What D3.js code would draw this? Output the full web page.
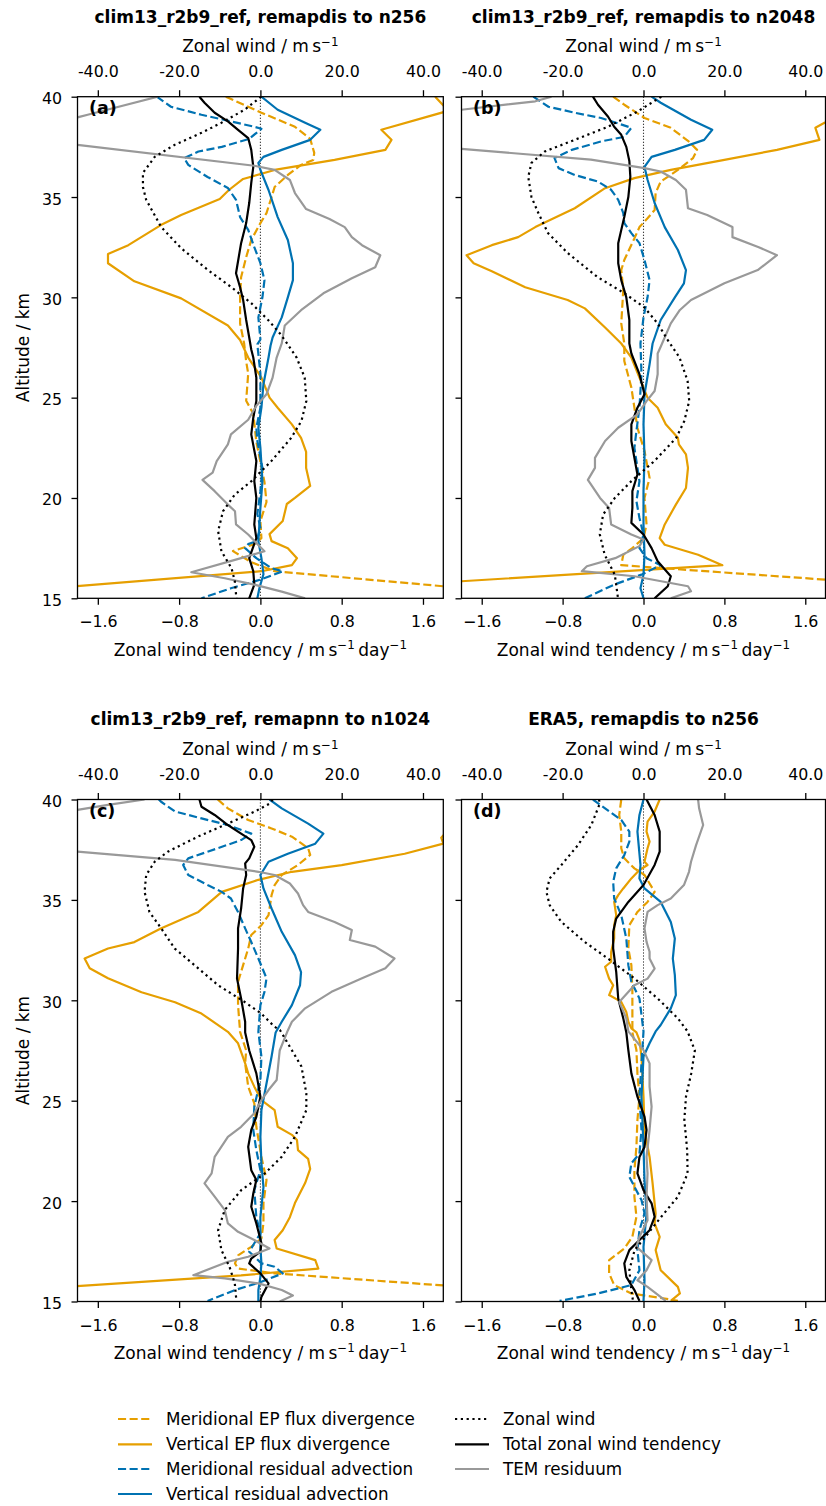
<!DOCTYPE html>
<html>
<head>
<meta charset="utf-8">
<script src="https://cdn.jsdelivr.net/npm/d3@7"></script>
<style>
  body { margin: 0; background: #fff; }
  text { font-family: "DejaVu Sans", sans-serif; fill: #000; }
</style>
</head>
<body>
<div id="fig"></div>
<script>
// values: [tendency (m/s/day) or wind (m/s), altitude (km)]

// panel (a) clim13_r2b9_ref, remapdis to n256
const a_merEP = [[-0.34,40],[0.01,39.2],[0.34,38.5],[0.49,37.9],[0.53,37.2],[0.52,36.85],[0.40,36.6],[0.27,36.1],[0.14,35.5],[0.11,35.0],[0.06,34.2],[0.0,33.7],[-0.09,32.86],[-0.14,32.0],[-0.19,31.0],[-0.20,30.0],[-0.20,28.7],[-0.16,27.7],[-0.14,26.8],[-0.12,26.2],[-0.14,24.85],[-0.07,24.2],[-0.04,22.8],[0.04,20.8],[0.06,19.8],[0.0,18.85],[0.01,18.0],[-0.06,17.7],[-0.27,17.35],[-0.09,16.8],[0.14,16.35],[1.80,15.6],[2.5,15.3]];
const a_vertEP = [[1.72,40],[1.85,39.3],[1.19,38.35],[1.29,37.85],[1.23,37.35],[0.73,36.85],[0.14,36.35],[-0.17,35.9],[-0.31,35.35],[-0.40,34.9],[-0.78,34.1],[-0.98,33.6],[-1.30,32.6],[-1.50,32.16],[-1.50,31.7],[-1.24,30.8],[-0.78,29.95],[-0.32,28.6],[-0.20,27.87],[-0.12,27.0],[0.01,26.0],[0.09,25.0],[0.17,24.5],[0.31,23.67],[0.40,23.0],[0.45,22.3],[0.45,21.5],[0.49,20.6],[0.34,20.0],[0.26,19.7],[0.22,18.85],[0.09,18.2],[0.11,17.85],[0.27,17.5],[0.36,17.0],[0.31,16.65],[0.01,16.35],[-1.83,15.6],[-2.6,15.3]];
const a_merAdv = [[-1.02,40],[-0.88,39.5],[-0.58,39.1],[-0.29,38.77],[-0.06,38.5],[0.01,38.4],[-0.11,37.9],[-0.38,37.5],[-0.61,37.27],[-0.75,36.94],[-0.71,36.6],[-0.52,36.0],[-0.32,35.45],[-0.24,34.86],[-0.20,34.0],[-0.12,33.36],[-0.06,32.5],[0.0,31.7],[0.04,30.86],[0.02,30.0],[-0.02,29.0],[0.0,27.9],[-0.03,27.66],[0.0,26.2],[0.0,24.5],[-0.04,23.5],[-0.03,22.84],[0.02,21.5],[0.0,20.34],[-0.03,19.2],[0.0,18.5],[-0.04,17.85],[-0.12,17.7],[-0.15,17.5],[-0.04,17.0],[0.11,16.5],[0.22,16.35],[0.0,15.93],[-0.29,15.5],[-0.58,15.0]];
const a_vertAdv = [[0.01,40],[0.17,39.35],[0.44,38.7],[0.59,38.35],[0.49,37.85],[0.21,37.35],[0.03,37.0],[-0.02,36.7],[0.0,36.35],[0.08,35.35],[0.17,34.0],[0.27,32.86],[0.32,31.7],[0.32,30.86],[0.27,30.0],[0.21,29.0],[0.12,28.0],[0.10,27.6],[0.08,27.0],[0.03,25.67],[0.01,24.5],[-0.02,23.5],[0.0,22.5],[0.02,20.84],[0.0,19.5],[-0.02,17.85],[0.01,17.0],[0.03,16.2],[-0.01,15.5],[-0.03,15.0]];
const a_total = [[-0.60,40],[-0.55,39.7],[-0.45,39.2],[-0.32,38.77],[-0.22,38.35],[-0.12,37.94],[-0.09,37.35],[-0.07,36.5],[-0.09,35.7],[-0.11,34.7],[-0.14,33.7],[-0.19,32.7],[-0.24,31.2],[-0.20,30.5],[-0.17,29.87],[-0.14,28.87],[-0.11,28.0],[-0.09,27.4],[-0.07,27.0],[-0.04,26.0],[-0.04,24.83],[-0.07,24.0],[-0.09,23.17],[-0.04,21.84],[-0.06,20.84],[-0.04,20.0],[-0.06,18.68],[-0.04,18.0],[-0.11,17.0],[-0.07,16.35],[-0.06,15.68],[-0.11,15.0]];
const a_resid = [[-1.01,40],[-1.70,39.1],[-2.52,38.03],[-1.80,37.6],[-0.06,36.56],[0.14,36.35],[0.29,35.85],[0.34,35.2],[0.45,34.4],[0.68,33.9],[0.83,33.5],[0.90,33.0],[1.0,32.6],[1.18,32.1],[1.13,31.5],[0.90,30.95],[0.62,30.2],[0.40,29.36],[0.24,28.6],[0.21,27.7],[0.16,27.0],[0.12,26.0],[0.06,25.17],[-0.04,24.6],[-0.12,23.9],[-0.29,23.17],[-0.32,22.67],[-0.43,21.84],[-0.47,21.26],[-0.57,20.9],[-0.45,20.34],[-0.32,19.67],[-0.25,19.34],[-0.24,18.68],[-0.12,18.18],[-0.04,17.76],[0.04,17.35],[-0.19,17.0],[-0.68,16.3],[-0.35,16.0],[-0.06,15.68],[0.21,15.33],[0.44,15.0]];
const a_wind = [[0.2,40],[-3.9,39.35],[-9.6,38.7],[-14.5,38.2],[-21.1,37.6],[-26.0,37.0],[-28.9,36.2],[-28.9,35.5],[-28.1,34.86],[-24.4,33.5],[-19.5,32.45],[-12.9,31.36],[-7.1,30.5],[-2.2,29.7],[1.9,28.87],[4.8,28.2],[6.0,27.87],[8.9,27.0],[10.9,26.0],[11.3,24.83],[10.1,23.84],[7.6,23.0],[2.7,21.84],[-2.2,20.84],[-6.3,20.17],[-9.2,19.34],[-10.4,18.35],[-9.6,17.35],[-7.1,16.5],[-6.3,15.85],[-5.9,15.0]];

// panel (b) clim13_r2b9_ref, remapdis to n2048
const b_merEP = [[-0.30,40],[-0.19,39.6],[0.01,38.94],[0.27,38.45],[0.44,37.8],[0.53,37.35],[0.49,36.94],[0.34,36.35],[0.17,35.77],[0.12,35.2],[0.11,34.35],[0.04,33.94],[-0.04,33.5],[-0.09,32.94],[-0.19,31.86],[-0.22,31.36],[-0.20,30.37],[-0.22,28.7],[-0.19,27.7],[-0.19,26.83],[-0.12,25.5],[-0.09,24.5],[-0.06,23.5],[0.01,22.34],[0.06,21.0],[0.01,20.0],[0.03,18.68],[0.0,18.0],[-0.11,17.5],[-0.20,17.17],[-0.22,16.65],[1.80,15.93],[2.5,15.74]];
const b_vertEP = [[2.5,40],[2.1,39.3],[1.79,38.7],[1.70,38.45],[1.74,37.85],[1.32,37.35],[0.80,36.85],[0.27,36.35],[-0.09,35.94],[-0.38,35.44],[-0.68,34.44],[-1.07,33.5],[-1.24,33.0],[-1.50,32.6],[-1.75,32.1],[-1.68,31.7],[-1.50,31.3],[-1.17,30.5],[-0.75,29.87],[-0.58,29.45],[-0.38,28.5],[-0.22,27.7],[-0.12,27.0],[-0.04,26.0],[0.04,25.0],[0.14,24.5],[0.22,23.67],[0.34,23.0],[0.35,22.67],[0.42,22.17],[0.44,21.5],[0.42,20.5],[0.32,19.67],[0.21,18.68],[0.16,18.0],[0.21,17.67],[0.54,17.17],[0.78,16.65],[-1.80,15.85],[-2.5,15.6]];
const b_merAdv = [[-1.09,40],[-0.94,39.5],[-0.68,39.2],[-0.42,38.94],[-0.12,38.45],[-0.19,38.0],[-0.42,37.77],[-0.71,37.35],[-0.88,36.94],[-0.84,36.44],[-0.68,36.1],[-0.45,35.77],[-0.32,35.36],[-0.25,34.86],[-0.20,34.2],[-0.19,33.7],[-0.12,33.2],[-0.04,32.7],[0.01,31.86],[0.06,30.86],[0.04,30.0],[0.0,29.0],[-0.03,27.7],[-0.02,26.17],[-0.04,24.5],[-0.07,23.34],[-0.09,22.5],[-0.04,20.84],[-0.07,19.84],[-0.04,19.0],[0.0,18.18],[-0.04,17.5],[0.03,17.0],[0.17,16.65],[-0.02,16.18],[-0.29,15.68],[-0.58,15.0]];
const b_vertAdv = [[0.08,40],[0.17,39.7],[0.47,38.85],[0.68,38.35],[0.60,37.85],[0.31,37.35],[0.08,37.0],[0.01,36.5],[0.04,35.86],[0.11,34.7],[0.21,33.5],[0.34,32.36],[0.42,31.36],[0.40,30.7],[0.31,30.0],[0.17,28.87],[0.09,27.7],[0.06,26.66],[0.01,25.17],[0.0,23.67],[0.01,22.0],[0.0,20.34],[0.0,18.68],[0.01,17.17],[0.0,16.18],[-0.03,15.5],[0.0,15.0]];
const b_total = [[-0.50,40],[-0.45,39.6],[-0.35,39.0],[-0.29,38.5],[-0.22,38.1],[-0.17,37.5],[-0.14,36.8],[-0.13,36.0],[-0.15,35.0],[-0.19,34.0],[-0.22,33.36],[-0.25,32.7],[-0.25,31.7],[-0.22,30.86],[-0.17,30.0],[-0.14,28.87],[-0.14,27.7],[-0.12,27.2],[-0.04,26.17],[0.01,25.17],[-0.06,24.5],[-0.12,23.67],[-0.12,22.84],[-0.09,22.0],[-0.06,21.17],[-0.11,20.34],[-0.11,19.5],[-0.12,18.76],[0.0,18.18],[0.08,17.5],[0.14,16.85],[0.27,16.1],[0.24,15.6],[0.11,15.0]];
const b_resid = [[-0.91,40],[-1.07,39.77],[-1.80,39.35],[-3.75,38.23],[-1.80,37.4],[-0.52,36.86],[0.01,36.44],[0.17,36.27],[0.32,35.85],[0.42,35.36],[0.44,34.44],[0.63,34.1],[0.88,33.5],[0.88,33.0],[1.14,32.5],[1.32,32.1],[1.13,31.36],[0.80,30.7],[0.47,29.87],[0.36,29.37],[0.27,28.7],[0.17,27.54],[0.14,27.2],[0.14,26.17],[0.11,25.33],[0.03,24.83],[-0.06,24.17],[-0.25,23.5],[-0.38,22.84],[-0.48,22.0],[-0.48,21.5],[-0.55,20.9],[-0.43,20.0],[-0.34,19.5],[-0.32,18.68],[-0.12,18.18],[0.0,17.93],[-0.04,17.6],[-0.28,17.0],[-0.56,16.6],[-0.61,16.35],[-0.09,16.1],[0.44,15.6],[0.47,15.35],[0.27,15.0]];
const b_wind = [[4.4,40],[-1.4,39.27],[-8.8,38.5],[-17.0,37.85],[-24.4,37.27],[-27.7,36.7],[-28.5,36.0],[-27.7,35.0],[-26.0,34.2],[-23.6,33.2],[-18.7,32.2],[-11.3,31.0],[-4.7,30.2],[0.2,29.5],[3.5,28.7],[6.0,27.87],[8.9,27.0],[10.9,25.84],[11.3,24.83],[10.1,23.84],[8.1,23.0],[2.7,21.84],[-3.0,20.84],[-7.1,20.0],[-10.0,19.17],[-10.8,18.18],[-9.6,17.17],[-7.1,16.18],[-6.3,15.0]];

// panel (c) clim13_r2b9_ref, remapnn to n1024
const c_merEP = [[-0.42,40],[-0.32,39.56],[-0.12,38.98],[0.11,38.56],[0.31,38.15],[0.47,37.57],[0.49,37.24],[0.37,36.74],[0.21,36.24],[0.14,35.74],[0.11,35.24],[0.08,34.24],[0.01,33.74],[-0.09,33.25],[-0.12,32.58],[-0.17,31.75],[-0.22,30.92],[-0.22,29.76],[-0.20,28.43],[-0.14,27.5],[-0.15,26.86],[-0.12,25.7],[-0.06,24.87],[-0.04,23.7],[0.01,22.2],[0.06,21.05],[0.03,19.9],[0.03,18.9],[0.01,18.14],[-0.09,17.72],[-0.22,17.3],[-0.25,16.9],[-0.22,16.64],[0.14,16.4],[1.80,15.8],[2.5,15.55]];
const c_vertEP = [[2.3,40],[1.85,38.5],[1.78,38.1],[1.80,37.8],[1.42,37.3],[0.80,36.73],[0.31,36.4],[-0.02,36.0],[-0.38,35.4],[-0.61,34.4],[-0.98,33.58],[-1.24,32.9],[-1.50,32.58],[-1.73,32.08],[-1.68,31.6],[-1.50,31.1],[-1.17,30.4],[-0.84,29.9],[-0.58,29.34],[-0.32,28.43],[-0.22,27.86],[-0.15,26.86],[-0.12,26.36],[-0.06,25.7],[0.01,25.03],[0.14,24.53],[0.17,23.7],[0.31,23.3],[0.36,23.04],[0.37,22.54],[0.47,22.1],[0.49,21.6],[0.44,20.9],[0.34,19.9],[0.29,19.2],[0.22,18.55],[0.14,18.06],[0.16,17.64],[0.54,17.06],[0.57,16.64],[-0.19,16.3],[-1.83,15.76],[-2.5,15.55]];
const c_merAdv = [[-1.0,40],[-0.98,39.9],[-0.84,39.4],[-0.58,39.06],[-0.32,38.73],[-0.09,38.3],[-0.19,37.98],[-0.42,37.57],[-0.71,37.07],[-0.76,36.74],[-0.71,36.24],[-0.52,35.74],[-0.38,35.4],[-0.29,35.07],[-0.22,34.4],[-0.15,33.58],[-0.09,32.9],[-0.02,32.08],[0.06,31.1],[0.04,30.42],[0.0,29.76],[-0.02,28.43],[0.01,27.2],[0.0,26.03],[-0.06,24.7],[-0.07,23.54],[-0.04,22.54],[0.0,21.54],[-0.06,20.55],[-0.04,19.2],[0.0,18.39],[-0.06,17.9],[-0.11,17.48],[0.01,16.9],[0.14,16.73],[0.22,16.4],[0.01,15.98],[-0.25,15.57],[-0.52,15.03]];
const c_vertAdv = [[0.09,40],[0.21,39.56],[0.47,38.8],[0.62,38.3],[0.54,37.8],[0.27,37.3],[0.08,36.9],[0.0,36.24],[0.03,35.57],[0.11,34.57],[0.21,33.41],[0.34,32.25],[0.40,31.4],[0.39,30.75],[0.31,29.76],[0.21,28.93],[0.15,28.4],[0.11,27.2],[0.06,25.86],[0.01,24.53],[0.0,23.2],[0.01,21.88],[0.03,20.7],[0.0,19.2],[0.0,17.72],[0.01,16.9],[0.0,16.23],[-0.02,15.57],[-0.02,15.0]];
const c_total = [[-0.60,40],[-0.58,39.64],[-0.45,39.23],[-0.32,38.73],[-0.19,38.3],[-0.09,37.98],[-0.06,37.65],[-0.11,37.07],[-0.15,36.82],[-0.14,36.24],[-0.17,35.57],[-0.19,34.57],[-0.22,33.58],[-0.22,32.58],[-0.23,31.08],[-0.19,30.09],[-0.15,28.93],[-0.15,28.4],[-0.11,27.5],[-0.04,26.36],[0.0,25.2],[-0.04,24.2],[-0.09,23.54],[-0.12,22.7],[-0.09,21.54],[-0.04,21.05],[-0.07,20.38],[-0.09,19.72],[-0.04,18.89],[0.01,17.9],[0.0,17.48],[-0.09,17.14],[-0.11,16.9],[0.0,16.4],[0.08,15.9],[0.01,15.23],[0.0,15.0]];
const c_resid = [[-1.14,40],[-1.50,39.73],[-1.80,39.48],[-3.51,38.13],[-1.80,37.4],[-0.84,36.99],[-0.02,36.4],[0.14,36.24],[0.29,35.82],[0.37,35.32],[0.42,34.74],[0.47,34.4],[0.73,33.9],[0.90,33.5],[0.88,33.0],[1.13,32.67],[1.32,32.08],[1.23,31.6],[1.0,31.1],[0.70,30.42],[0.44,29.6],[0.31,28.93],[0.27,28.5],[0.19,27.5],[0.16,26.03],[0.08,25.53],[0.01,25.03],[-0.06,24.37],[-0.19,23.7],[-0.32,23.2],[-0.45,22.2],[-0.48,21.38],[-0.55,20.88],[-0.45,20.22],[-0.35,19.55],[-0.32,18.89],[-0.22,18.47],[-0.06,18.06],[0.09,17.64],[-0.12,17.23],[-0.32,16.98],[-0.66,16.31],[-0.35,16.15],[-0.02,15.9],[0.21,15.57],[0.32,15.3],[0.19,15.0]];
const c_wind = [[3.0,40],[2.3,39.8],[-1.4,39.4],[-8.0,38.8],[-15.4,38.15],[-22.8,37.4],[-26.0,36.9],[-28.1,36.24],[-28.5,35.4],[-27.3,34.4],[-24.4,33.58],[-21.1,32.58],[-16.2,31.75],[-10.4,30.75],[-3.9,29.92],[0.2,29.34],[3.5,28.68],[4.8,28.52],[7.2,27.7],[10.1,26.7],[11.3,25.37],[11.3,24.53],[8.5,23.2],[5.2,22.2],[1.1,21.38],[-4.7,20.55],[-8.8,19.55],[-10.4,18.55],[-9.6,17.56],[-7.6,16.73],[-6.3,15.9],[-5.9,15.03]];

// panel (d) ERA5, remapdis to n256
const d_merEP = [[-0.22,40],[-0.24,39.23],[-0.22,38.4],[-0.22,37.57],[-0.19,37.07],[-0.09,36.57],[0.01,36.24],[0.11,35.4],[0.04,34.9],[-0.06,34.4],[-0.14,33.74],[-0.15,32.58],[-0.12,31.75],[-0.11,30.42],[-0.11,29.26],[-0.11,28.4],[-0.07,27.52],[-0.06,26.36],[-0.04,25.2],[-0.06,24.04],[-0.07,22.7],[-0.09,21.54],[-0.09,20.22],[-0.07,19.22],[-0.11,18.22],[-0.19,17.64],[-0.34,17.06],[-0.34,16.4],[-0.29,15.82],[-0.12,15.4],[0.21,15.15],[0.34,15.03]];
const d_vertEP = [[0.16,40],[0.11,39.4],[0.04,38.9],[0.03,38.4],[0.06,37.9],[0.04,37.57],[0.01,36.9],[0.04,36.74],[-0.04,36.49],[-0.12,36.07],[-0.20,35.57],[-0.25,35.24],[-0.29,34.9],[-0.27,34.24],[-0.29,33.74],[-0.29,33.08],[-0.32,32.41],[-0.32,31.92],[-0.38,31.67],[-0.34,31.08],[-0.30,30.75],[-0.34,30.26],[-0.22,29.92],[-0.17,29.42],[-0.15,28.93],[-0.12,28.6],[-0.07,28.4],[-0.04,28.02],[-0.02,27.2],[0.0,25.2],[0.01,23.54],[0.06,22.2],[0.09,20.88],[0.12,19.39],[0.11,18.89],[0.16,18.22],[0.12,17.56],[0.17,16.56],[0.34,15.73],[0.36,15.4],[0.27,15.03]];
const d_merAdv = [[-0.50,40],[-0.38,39.56],[-0.22,38.98],[-0.14,38.4],[-0.14,37.9],[-0.19,37.23],[-0.27,36.57],[-0.30,35.9],[-0.29,35.07],[-0.22,34.24],[-0.17,33.08],[-0.15,31.75],[-0.12,30.92],[-0.04,30.09],[0.0,28.45],[-0.02,26.86],[-0.04,25.2],[-0.02,23.54],[-0.04,22.37],[-0.12,21.88],[-0.14,21.21],[-0.09,20.72],[-0.02,20.05],[0.01,19.39],[-0.04,18.55],[-0.06,17.56],[-0.04,16.56],[-0.12,15.82],[-0.45,15.4],[-0.83,15.03]];
const d_vertAdv = [[0.0,40],[-0.04,39.23],[-0.06,38.4],[-0.03,36.74],[-0.04,36.07],[0.01,35.57],[0.17,34.9],[0.27,33.9],[0.31,33.08],[0.29,32.08],[0.31,31.25],[0.32,30.26],[0.27,29.6],[0.17,28.77],[0.12,28.45],[0.06,27.86],[0.0,27.2],[-0.02,25.2],[0.0,22.7],[0.01,21.05],[0.03,19.39],[0.0,17.72],[0.01,16.06],[0.0,15.0]];
const d_total = [[0.03,40],[0.11,39.23],[0.16,38.4],[0.16,37.4],[0.11,36.74],[0.0,35.74],[-0.15,34.9],[-0.27,34.07],[-0.30,33.41],[-0.30,32.58],[-0.27,31.42],[-0.25,30.09],[-0.20,29.1],[-0.17,28.4],[-0.15,27.52],[-0.12,26.36],[-0.06,25.2],[0.01,24.2],[0.03,23.54],[0.01,22.7],[-0.04,22.2],[-0.06,21.38],[0.0,20.55],[0.08,19.89],[0.11,19.22],[0.06,18.55],[-0.04,18.06],[-0.14,17.56],[-0.19,16.9],[-0.17,16.23],[-0.09,15.57],[-0.04,15.03]];
const d_resid = [[0.54,40],[0.55,39.56],[0.59,38.73],[0.52,37.73],[0.47,36.9],[0.45,36.4],[0.40,35.74],[0.27,35.07],[0.14,34.74],[0.04,34.4],[0.01,33.58],[0.03,32.91],[0.06,32.42],[0.06,32.08],[0.11,31.58],[0.04,31.08],[-0.09,30.75],[-0.24,29.92],[-0.17,29.1],[-0.15,28.45],[0.0,27.52],[0.06,26.86],[0.06,25.7],[0.08,24.7],[0.06,23.54],[0.03,22.2],[0.04,21.38],[0.03,20.22],[0.04,19.05],[-0.04,18.22],[-0.07,17.72],[0.08,17.06],[0.03,16.56],[-0.06,16.06],[0.04,15.73],[0.22,15.03]];
const d_wind = [[-11.0,40],[-10.8,39.8],[-12.9,38.73],[-16.2,37.73],[-20.3,36.74],[-23.2,36.07],[-24.0,35.4],[-23.2,34.74],[-20.3,33.9],[-14.5,32.9],[-8.8,32.08],[-2.2,31.08],[3.5,30.09],[8.5,29.1],[10.9,28.45],[12.7,27.5],[11.8,26.36],[10.5,25.2],[10.1,24.04],[10.8,22.54],[10.9,21.38],[8.5,20.22],[4.4,19.22],[1.1,18.39],[-2.2,17.56],[-3.5,16.56],[-3.0,15.57],[-2.6,15.03]];

const panelTitles = ["clim13_r2b9_ref, remapdis to n256", "clim13_r2b9_ref, remapdis to n2048",
                     "clim13_r2b9_ref, remapnn to n1024", "ERA5, remapdis to n256"];
const panelLetters = ["(a)", "(b)", "(c)", "(d)"];
const tendTicks = [-1.6, -0.8, 0, 0.8, 1.6];
const windTicks = [-40, -20, 0, 20, 40];
const altTicks = [15, 20, 25, 30, 35, 40];

const seriesNames = ["Meridional EP flux divergence", "Vertical EP flux divergence",
                     "Meridional residual advection", "Vertical residual advection",
                     "Total zonal wind tendency", "TEM residuum"];
const windName = "Zonal wind";

// styling
const ORANGE = "#E69F00", BLUE = "#0072B2", GREY = "#999999";
const LW = 2.2, DASH = "8.1,3.5", DOT = "2.2,3.6";
const seriesStyle = [
  {color: ORANGE, dash: DASH},
  {color: ORANGE, dash: null},
  {color: BLUE, dash: DASH},
  {color: BLUE, dash: null},
  {color: "#000", dash: null},
  {color: GREY, dash: null}
];

const panels = [
  {series: [a_merEP, a_vertEP, a_merAdv, a_vertAdv, a_total, a_resid], wind: a_wind, x0: 77.5, x1: 443.3, y0: 96.7, y1: 598.3, labels: true},
  {series: [b_merEP, b_vertEP, b_merAdv, b_vertAdv, b_total, b_resid], wind: b_wind, x0: 461.5, x1: 825.5, y0: 96.7, y1: 598.3, labels: false},
  {series: [c_merEP, c_vertEP, c_merAdv, c_vertAdv, c_total, c_resid], wind: c_wind, x0: 77.5, x1: 443.3, y0: 799.5, y1: 1301.5, labels: true},
  {series: [d_merEP, d_vertEP, d_merAdv, d_vertAdv, d_total, d_resid], wind: d_wind, x0: 461.5, x1: 825.5, y0: 799.5, y1: 1301.5, labels: false}
];

const TICK_FS = 15.8, LABEL_FS = 17, TITLE_FS = 17, LEGEND_FS = 16.8;

const svg = d3.select("#fig").append("svg")
  .attr("width", 826).attr("height", 1506)
  .style("display", "block");
const defs = svg.append("defs");

// text with superscripts: parts = [[text, isSup], ...]
function richText(sel, parts) {
  let up = false;
  parts.forEach(([t, sup]) => {
    const ts = sel.append("tspan").text(t);
    if (sup && !up) { ts.attr("dy", -6.5).attr("font-size", "70%"); up = true; }
    else if (sup) { ts.attr("font-size", "70%"); }
    else if (up) { ts.attr("dy", 6.5); up = false; }
  });
}

panels.forEach((p, i) => {
  const x = d3.scaleLinear().domain([-1.8, 1.8]).range([p.x0, p.x1]);
  const xw = d3.scaleLinear().domain([-45, 45]).range([p.x0, p.x1]);
  const y = d3.scaleLinear().domain([15, 40]).range([p.y1, p.y0]);
  const cx = (p.x0 + p.x1) / 2;

  defs.append("clipPath").attr("id", "clip" + i)
    .append("rect")
    .attr("x", p.x0).attr("y", p.y0)
    .attr("width", p.x1 - p.x0).attr("height", p.y1 - p.y0);

  const plot = svg.append("g").attr("clip-path", `url(#clip${i})`);

  // zero line
  plot.append("line")
    .attr("x1", x(0)).attr("x2", x(0))
    .attr("y1", p.y0).attr("y2", p.y1)
    .attr("stroke", "#000").attr("stroke-width", 1.1)
    .attr("stroke-dasharray", "1.1,1.9");

  const line = d3.line().x(d => x(d[0])).y(d => y(d[1]));
  p.series.forEach((data, k) => {
    const st = seriesStyle[k];
    plot.append("path")
      .datum(data)
      .attr("fill", "none")
      .attr("stroke", st.color)
      .attr("stroke-width", LW)
      .attr("stroke-linejoin", "round")
      .attr("stroke-dasharray", st.dash)
      .attr("d", line);
  });

  const windLine = d3.line().x(d => xw(d[0])).y(d => y(d[1]));
  plot.append("path")
    .datum(p.wind)
    .attr("fill", "none")
    .attr("stroke", "#000")
    .attr("stroke-width", LW)
    .attr("stroke-dasharray", DOT)
    .attr("d", windLine);

  // spines
  svg.append("rect")
    .attr("x", p.x0).attr("y", p.y0)
    .attr("width", p.x1 - p.x0).attr("height", p.y1 - p.y0)
    .attr("fill", "none").attr("stroke", "#000").attr("stroke-width", 1.3);

  // bottom axis
  const gb = svg.append("g")
    .attr("transform", `translate(0,${p.y1})`)
    .call(d3.axisBottom(x).tickValues(tendTicks).tickFormat(d3.format(".1f")).tickSize(6.5).tickSizeOuter(0));
  // top axis (zonal wind)
  const gt = svg.append("g")
    .attr("transform", `translate(0,${p.y0})`)
    .call(d3.axisTop(xw).tickValues(windTicks).tickFormat(d => d.toFixed(1)).tickSize(6.5).tickSizeOuter(0));
  // left axis
  const gl = svg.append("g")
    .attr("transform", `translate(${p.x0},0)`)
    .call(d3.axisLeft(y).tickValues(altTicks).tickFormat(d3.format("d")).tickSize(6).tickSizeOuter(0));

  [gb, gt, gl].forEach(g => {
    g.select(".domain").remove();
    g.attr("font-family", null).attr("font-size", null);
    g.selectAll(".tick line").attr("stroke-width", 1.3);
    g.selectAll(".tick text").attr("font-size", TICK_FS);
  });
  gb.selectAll(".tick text").attr("y", 29).attr("dy", null);
  gt.selectAll(".tick text").attr("y", -19.4).attr("dy", null);
  gl.selectAll(".tick text").attr("x", -15.5).attr("dy", 7);
  if (!p.labels) gl.selectAll(".tick text").remove();

  // axis labels
  const bl = svg.append("text")
    .attr("x", cx).attr("y", p.y1 + 57.4)
    .attr("text-anchor", "middle").attr("font-size", LABEL_FS);
  richText(bl, [["Zonal wind tendency / m\u2009s"], ["\u22121", true], ["\u2009day"], ["\u22121", true]]);

  const tl = svg.append("text")
    .attr("x", cx).attr("y", p.y0 - 44.4)
    .attr("text-anchor", "middle").attr("font-size", LABEL_FS);
  richText(tl, [["Zonal wind / m\u2009s"], ["\u22121", true]]);

  svg.append("text")
    .attr("x", cx).attr("y", p.y0 - 74.2)
    .attr("text-anchor", "middle")
    .attr("font-size", TITLE_FS).attr("font-weight", "bold")
    .text(panelTitles[i]);

  svg.append("text")
    .attr("x", p.x0 + 11.5).attr("y", p.y0 + 17)
    .attr("font-size", 17.5).attr("font-weight", "bold")
    .text(panelLetters[i]);

  if (p.labels) {
    svg.append("text")
      .attr("transform", `translate(29,${(p.y0 + p.y1) / 2}) rotate(-90)`)
      .attr("text-anchor", "middle").attr("font-size", LABEL_FS)
      .text("Altitude / km");
  }
});

// legend
const legendItems = [
  {name: seriesNames[0], st: seriesStyle[0], col: 0, row: 0},
  {name: seriesNames[1], st: seriesStyle[1], col: 0, row: 1},
  {name: seriesNames[2], st: seriesStyle[2], col: 0, row: 2},
  {name: seriesNames[3], st: seriesStyle[3], col: 0, row: 3},
  {name: windName, st: {color: "#000", dash: DOT}, col: 1, row: 0},
  {name: seriesNames[4], st: seriesStyle[4], col: 1, row: 1},
  {name: seriesNames[5], st: seriesStyle[5], col: 1, row: 2}
];
const legCols = [118, 455];
const legRows = [1419, 1444.3, 1469, 1494];
const leg = svg.append("g");
legendItems.forEach(it => {
  const lx = legCols[it.col], ly = legRows[it.row];
  leg.append("line")
    .attr("x1", lx).attr("x2", lx + 34)
    .attr("y1", ly).attr("y2", ly)
    .attr("stroke", it.st.color).attr("stroke-width", LW)
    .attr("stroke-dasharray", it.st.dash);
  leg.append("text")
    .attr("x", lx + 48).attr("y", ly + 6)
    .attr("font-size", LEGEND_FS)
    .text(it.name);
});
</script>
</body>
</html>
